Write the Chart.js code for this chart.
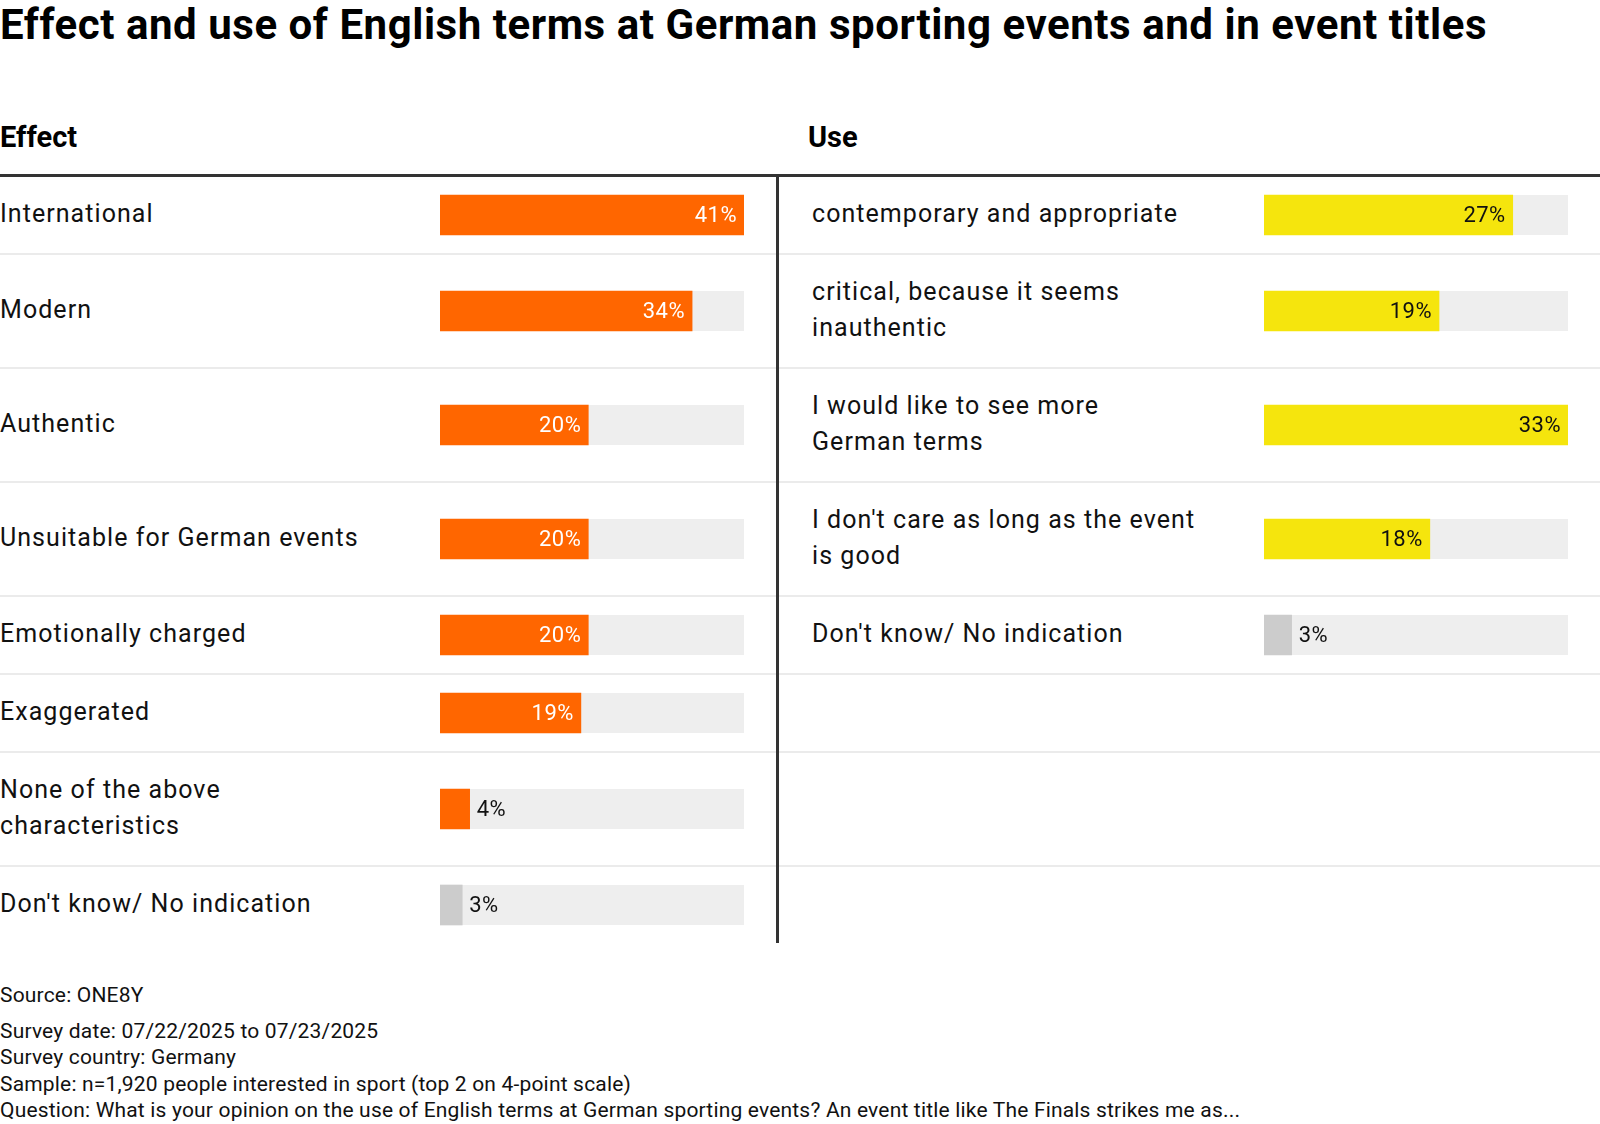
<!DOCTYPE html>
<html>
<head>
<meta charset="utf-8">
<script src="https://cdn.jsdelivr.net/npm/chart.js@4.4.1/dist/chart.umd.min.js"></script>
<style>
  html, body { margin: 0; padding: 0; background: #fff; }
  body { width: 1600px; height: 1124px; position: relative; overflow: hidden; font-family: Roboto, "Noto Sans", sans-serif; color: #111; }
  #title { position: absolute; left: 0; top: 4px; font-size: 42px; line-height: 42px; font-weight: 700; letter-spacing: 0.55px; color: #000; white-space: nowrap; }
  .hdr { position: absolute; top: 123px; font-size: 29px; line-height: 29px; font-weight: 700; color: #000; }
  #hdrL { left: 0; }
  #hdrU { left: 808px; }
  #hline { position: absolute; left: 0; top: 174px; width: 1600px; height: 3px; background: #333; }
  #table { position: absolute; left: 0; top: 177px; width: 1600px; }
  .row { display: flex; border-bottom: 2px solid #ebebeb; }
  .row.last { border-bottom: none; }
  .cell { display: flex; align-items: center; position: relative; }
  .cellL { width: 776px; }
  .gap { width: 3px; }
  .cellR { width: 821px; padding-left: 33px; box-sizing: border-box; }
  .lab { box-sizing: border-box; position: relative; top: -1px; font-size: 25px; line-height: 36px; letter-spacing: 1.05px; white-space: nowrap; }
  .cellL .lab { width: 440px; }
  .cellR .lab { width: 452px; }
  canvas { display: block; }
  #divider { position: absolute; left: 776px; top: 177px; width: 3px; background: #333; }
  #footer { position: absolute; left: 0; top: 982px; font-size: 21px; line-height: 26.5px; letter-spacing: 0.18px; color: #111; white-space: nowrap; }
  #footer .gapline { height: 9px; }
</style>
</head>
<body>
<div id="title">Effect and use of English terms at German sporting events and in event titles</div>
<div id="hdrL" class="hdr">Effect</div>
<div id="hdrU" class="hdr">Use</div>
<div id="hline"></div>
<div id="table"></div>
<div id="divider"></div>
<div id="footer"></div>
<script>
// ---- data ----
const effectCategories = [
  "International",
  "Modern",
  "Authentic",
  "Unsuitable for German events",
  "Emotionally charged",
  "Exaggerated",
  ["None of the above", "characteristics"],
  "Don't know/ No indication"
];
const effectValues = [41, 34, 20, 20, 20, 19, 4, 3];

const useCategories = [
  "contemporary and appropriate",
  ["critical, because it seems", "inauthentic"],
  ["I would like to see more", "German terms"],
  ["I don't care as long as the event", "is good"],
  "Don't know/ No indication"
];
const useValues = [27, 19, 33, 18, 3];

const neutralCategory = "Don't know/ No indication";
const footerSource = "Source: ONE8Y";
const footerLines = [
  "Survey date: 07/22/2025 to 07/23/2025",
  "Survey country: Germany",
  "Sample: n=1,920 people interested in sport (top 2 on 4-point scale)",
  "Question: What is your opinion on the use of English terms at German sporting events? An event title like The Finals strikes me as..."
];

// ---- styles ----
const style = {
  effect: { bar: "#ff6600", inText: "#ffffff" },
  use: { bar: "#f5e50d", inText: "#111111" },
  neutral: { bar: "#cccccc", inText: "#111111" },
  track: "#eeeeee",
  outText: "#111111",
  font: "22px Roboto",
  barThickness: 40,
  lineHeight: 36,
  rowPad: 40,
  barWidth: 304
};

const lines = l => Array.isArray(l) ? l.length : 1;
const asHtml = l => (Array.isArray(l) ? l : [l]).map(s => s.replace(/&/g, "&amp;").replace(/</g, "&lt;")).join("<br>");

const trackPlugin = {
  id: "track",
  beforeDatasetsDraw(chart) {
    const ctx = chart.ctx, area = chart.chartArea;
    const meta = chart.getDatasetMeta(0);
    ctx.save();
    ctx.fillStyle = style.track;
    meta.data.forEach(el => {
      const h = el.height;
      ctx.fillRect(area.left, el.y - h / 2, area.right - area.left, h);
    });
    ctx.restore();
  }
};

const valuePlugin = {
  id: "valueLabels",
  afterDatasetsDraw(chart, args, opts) {
    const ctx = chart.ctx;
    const ds = chart.data.datasets[0];
    const meta = chart.getDatasetMeta(0);
    ctx.save();
    ctx.font = style.font;
    if ('letterSpacing' in ctx) ctx.letterSpacing = "0.5px";
    ctx.textBaseline = "middle";
    meta.data.forEach((el, i) => {
      const txt = ds.data[i] + "%";
      const w = ctx.measureText(txt).width;
      const barW = el.x - el.base;
      if (w + 16 <= barW) {
        ctx.fillStyle = opts.inText;
        ctx.textAlign = "right";
        ctx.fillText(txt, el.x - 7, el.y + 1);
      } else {
        ctx.fillStyle = style.outText;
        ctx.textAlign = "left";
        ctx.fillText(txt, el.x + 7, el.y + 1);
      }
    });
    ctx.restore();
  }
};

function makeBar(container, label, value, max, st, height) {
  const c = document.createElement("canvas");
  c.width = style.barWidth; c.height = height;
  c.style.width = style.barWidth + "px"; c.style.height = height + "px";
  container.appendChild(c);
  new Chart(c, {
    type: "bar",
    data: { labels: [label], datasets: [{ data: [value], backgroundColor: st.bar, borderWidth: 0, barThickness: style.barThickness }] },
    options: {
      indexAxis: "y",
      responsive: false,
      animation: false,
      devicePixelRatio: 1,
      layout: { padding: 0 },
      scales: {
        x: { min: 0, max: max, display: false },
        y: { display: false }
      },
      plugins: { legend: { display: false }, tooltip: { enabled: false }, valueLabels: { inText: st.inText } }
    },
    plugins: [trackPlugin, valuePlugin]
  });
}

const effectMax = Math.max(...effectValues);
const useMax = Math.max(...useValues);
const table = document.getElementById("table");
const nRows = Math.max(effectCategories.length, useCategories.length);
let total = 0;
for (let i = 0; i < nRows; i++) {
  const hasL = i < effectCategories.length, hasR = i < useCategories.length;
  const n = Math.max(hasL ? lines(effectCategories[i]) : 1, hasR ? lines(useCategories[i]) : 1);
  const h = style.rowPad + n * style.lineHeight;
  const row = document.createElement("div");
  row.className = "row" + (i === nRows - 1 ? " last" : "");
  row.style.height = h + "px";
  const cl = document.createElement("div"); cl.className = "cell cellL";
  const gap = document.createElement("div"); gap.className = "gap";
  const cr = document.createElement("div"); cr.className = "cell cellR";
  row.append(cl, gap, cr);
  table.appendChild(row);
  if (hasL) {
    const lab = document.createElement("div"); lab.className = "lab"; lab.innerHTML = asHtml(effectCategories[i]);
    cl.appendChild(lab);
    const st = effectCategories[i] === neutralCategory ? style.neutral : style.effect;
    makeBar(cl, effectCategories[i], effectValues[i], effectMax, st, h);
  }
  if (hasR) {
    const lab = document.createElement("div"); lab.className = "lab"; lab.innerHTML = asHtml(useCategories[i]);
    cr.appendChild(lab);
    const st = useCategories[i] === neutralCategory ? style.neutral : style.use;
    makeBar(cr, useCategories[i], useValues[i], useMax, st, h);
  }
  total += h + (i === nRows - 1 ? 0 : 2);
}
document.getElementById("divider").style.height = total + "px";

const footer = document.getElementById("footer");
footer.innerHTML = "<div>" + footerSource + "</div><div class='gapline'></div>" + footerLines.map(s => "<div>" + s + "</div>").join("");
</script>
</body>
</html>
